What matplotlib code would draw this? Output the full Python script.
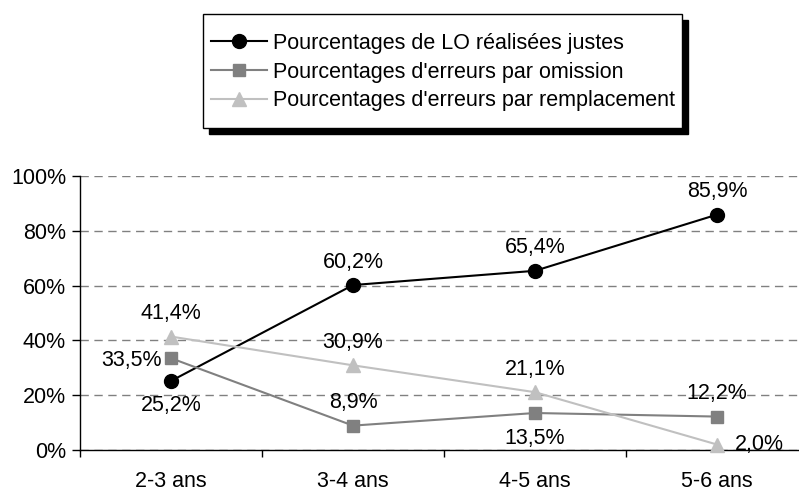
import matplotlib
matplotlib.use("Agg")
import matplotlib.pyplot as plt
from matplotlib.patches import Rectangle
from matplotlib.ticker import FixedLocator, NullFormatter

# ---------- Data ----------
CATEGORIES = ["2-3 ans", "3-4 ans", "4-5 ans", "5-6 ans"]
LO_JUSTES = [25.2, 60.2, 65.4, 85.9]
ERR_OMISSION = [33.5, 8.9, 13.5, 12.2]
ERR_REMPLACEMENT = [41.4, 30.9, 21.1, 2.0]
SERIES_LABELS = [
    "Pourcentages de LO réalisées justes",
    "Pourcentages d'erreurs par omission",
    "Pourcentages d'erreurs par remplacement",
]
Y_TICKS = [0, 20, 40, 60, 80, 100]

# ---------- Style ----------
FONT = ["Liberation Sans", "Arial", "DejaVu Sans"]
FS = 15.5
COLORS = ["#000000", "#808080", "#C0C0C0"]
MARKERS = ["o", "s", "^"]
MSIZES = [10, 9, 10.5]
# data-label placement per point
PLACES = [
    ["below", "above", "above", "above"],
    ["left", "above", "below", "above"],
    ["above", "above", "above", "right"],
]

plt.rcParams["font.family"] = FONT

DPI = 100
W, H = 799, 491
fig = plt.figure(figsize=(W / DPI, H / DPI), dpi=DPI)
ax = fig.add_axes([80 / W, 41 / H, 728 / W, 274 / H])

x = list(range(len(CATEGORIES)))
series = [LO_JUSTES, ERR_OMISSION, ERR_REMPLACEMENT]

PX = 72 / DPI  # points per pixel
for vals, col, mk, ms, lab, places in zip(series, COLORS, MARKERS, MSIZES, SERIES_LABELS, PLACES):
    ax.plot(x, vals, color=col, marker=mk, markersize=ms, linewidth=1.5,
            markeredgecolor=col, markerfacecolor=col, label=lab, zorder=3, clip_on=False)
    for xi, v, pl in zip(x, vals, places):
        txt = f"{v:.1f}%".replace(".", ",")
        if pl == "above":
            off, ha = (0, 23), "center"
        elif pl == "below":
            off, ha = (0, -25), "center"
        elif pl == "left":
            off, ha = (-9, -2), "right"
        else:
            off, ha = (18, 0), "left"
        ax.annotate(txt, (xi, v), xytext=(off[0] * PX, off[1] * PX),
                    textcoords="offset points", ha=ha, va="center",
                    fontsize=FS, color="black", zorder=4)

ax.set_xlim(-0.5, len(CATEGORIES) - 0.5)
ax.set_ylim(0, 100)
ax.set_yticks(Y_TICKS)
ax.set_yticklabels([f"{t}%" for t in Y_TICKS], fontsize=FS)
ax.set_xticks(x)
ax.set_xticklabels(CATEGORIES, fontsize=FS)
ax.xaxis.set_minor_locator(FixedLocator([i - 0.5 for i in range(len(CATEGORIES) + 1)]))
ax.xaxis.set_minor_formatter(NullFormatter())
ax.tick_params(axis="x", which="major", length=0, pad=15)
ax.tick_params(axis="x", which="minor", length=5, width=1, color="black")
ax.tick_params(axis="y", length=6, width=1, pad=4, color="black")

ax.yaxis.grid(True, color="#808080", linewidth=1, linestyle=(0, (6, 4)))
ax.set_axisbelow(True)
for side in ("top", "right"):
    ax.spines[side].set_visible(False)
for side in ("left", "bottom"):
    ax.spines[side].set_color("black")
    ax.spines[side].set_linewidth(1)

# Legend box with hard black drop shadow (drawn as figure patches)
bx0, by0, bx1, by1 = 203, 14, 682, 128
fig.patches.append(Rectangle(((bx0 + 6) / W, 1 - (by1 + 6) / H), (bx1 - bx0) / W, (by1 - by0) / H,
                             transform=fig.transFigure, facecolor="black", edgecolor="black", zorder=1))
fig.patches.append(Rectangle((bx0 / W, 1 - by1 / H), (bx1 - bx0) / W, (by1 - by0) / H,
                             transform=fig.transFigure, facecolor="white", edgecolor="black",
                             linewidth=1, zorder=2))

leg = fig.legend(
    loc="center left",
    bbox_to_anchor=(211 / W, 1 - 72 / H),
    bbox_transform=fig.transFigure,
    borderaxespad=0,
    borderpad=0,
    fontsize=FS,
    frameon=False,
    handlelength=2.6,
    handletextpad=0.3,
    labelspacing=0.35,
)
leg.set_zorder(3)

fig.savefig("out.png", dpi=DPI, facecolor="white")
